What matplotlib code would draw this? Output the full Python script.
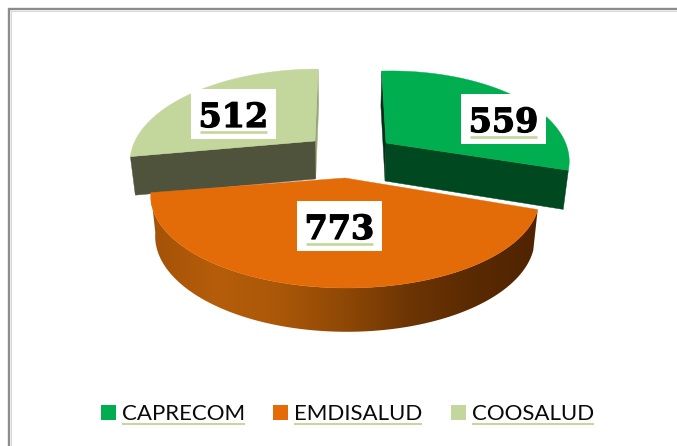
import numpy as np
import matplotlib
matplotlib.use('Agg')
import matplotlib.pyplot as plt
import matplotlib.patheffects as pe
from matplotlib.colors import LinearSegmentedColormap
from matplotlib.patches import Polygon, Rectangle

categories = ['CAPRECOM', 'EMDISALUD', 'COOSALUD']
values = [559, 773, 512]
top_colors = ['#00ae50', '#e36c09', '#c3d69b']
front_colors = ['#004820', '#8a4305', '#50533c']
sliver_colors = ['#00301a', '#8a4305', '#98a678']

# layout of the exploded slices, in pixels
apex = [(386, 143), (345, 178), (315, 141)]
radius = [178, 190, 180]
shear = [-3.5, 1, 0]
label_pos = [(503.5, 119), (339.5, 226), (233.5, 114)]
legend_x = [101, 273, 451]
legend_text_x = [122, 293.5, 472]

vanish_x = 345
tilt = 0.209
flat = 87


def project(cx, cy, r, ang, sh):
    # perspective view of a point on the slice's top face
    u = np.cos(ang)
    v = -np.sin(ang)
    w = 1 - tilt * v
    x = cx + r * u / w + (cx - vanish_x) * (1 / w - 1) * 0.6
    y = cy + flat * v / w + sh * u
    return x, y


def drop(x, y):
    # same point on the bottom face
    return vanish_x + (x - vanish_x) * 0.977, y + 38 + (y - 143) * 0.04


fig = plt.figure(figsize=(6.77, 4.46), dpi=100)
ax = fig.add_axes([0, 0, 1, 1])
ax.set_xlim(0, 677)
ax.set_ylim(446, 0)
ax.axis('off')

# chart frame, only the left and top sides show
ax.plot([9, 9, 677], [446, 9, 9], color='#8c8c8c', lw=1.7, solid_joinstyle='miter')
ax.plot([10.5, 10.5, 677], [446, 10.5, 10.5], color='#d9d9d9', lw=0.8)

fractions = np.array(values) / sum(values)
ends = 90 - 360 * np.cumsum(fractions)
starts = ends + 360 * fractions

wall_cmap = LinearSegmentedColormap.from_list(
    'wall', ['#a45208', '#b55d0a', '#aa5808', '#8f4806', '#6d3504', '#5a2a02', '#4f2401'])

# back slices first, the big orange one sits in front
for i in [2, 0, 1]:
    cx, cy = apex[i]
    r = radius[i]
    ang = np.radians(np.linspace(starts[i], ends[i], 200))
    xs, ys = project(cx, cy, r, ang, shear[i])
    bx, by = drop(xs, ys)
    ax_, ay_ = drop(cx, cy)

    if i == 1:
        # only the rim faces the viewer
        rim = np.column_stack([np.r_[xs, bx[::-1]], np.r_[ys, by[::-1]]])
        poly = Polygon(rim, closed=True, fc='none', ec='none')
        ax.add_patch(poly)
        im = ax.imshow(np.linspace(0, 1, 256)[None, :], cmap=wall_cmap, aspect='auto',
                       extent=(xs.min(), xs.max(), by.max(), ys.min()), zorder=2)
        im.set_clip_path(poly)
    else:
        # radial cut faces: the one at 12 o'clock is a thin sliver, the other faces front
        back = 0 if i == 0 else -1
        front = -1 if i == 0 else 0
        for k, col in [(back, sliver_colors[i]), (front, front_colors[i])]:
            ax.add_patch(Polygon([(cx, cy), (xs[k], ys[k]), (bx[k], by[k]), (ax_, ay_)],
                                 closed=True, fc=col, ec=col, lw=0.3, zorder=2))

    top = np.vstack([[cx, cy], np.column_stack([xs, ys])])
    ax.add_patch(Polygon(top, closed=True, fc=top_colors[i], ec=top_colors[i], lw=0.3, zorder=3))

# value labels
for i, val in enumerate(values):
    x, y = label_pos[i]
    ax.add_patch(Rectangle((x - 42.5, y - 25), 85, 50, fc='white', ec='none', zorder=4))
    ax.text(x, y + 13, str(val), family='DejaVu Serif', fontweight='bold', fontsize=24,
            ha='center', va='baseline', color='black', zorder=5,
            path_effects=[pe.withStroke(linewidth=0.9, foreground='black')])
    ax.plot([x - 33.5, x + 33.5], [y + 18, y + 18], color='#c3d69b', lw=1.9,
            solid_capstyle='butt', zorder=5)

# legend
fig.canvas.draw()
for i, name in enumerate(categories):
    ax.add_patch(Rectangle((legend_x[i], 405), 14.5, 15, fc=top_colors[i], ec='none'))
    t = ax.text(legend_text_x[i], 420, name, family='Lato', fontsize=16,
                ha='left', va='baseline', color='#0a0a0a')
    ext = t.get_window_extent(fig.canvas.get_renderer())
    ax.plot([legend_text_x[i], legend_text_x[i] + ext.width], [423.5, 423.5],
            color='#c3d69b', lw=1.4, solid_capstyle='butt')

fig.savefig('out.png', dpi=100)
